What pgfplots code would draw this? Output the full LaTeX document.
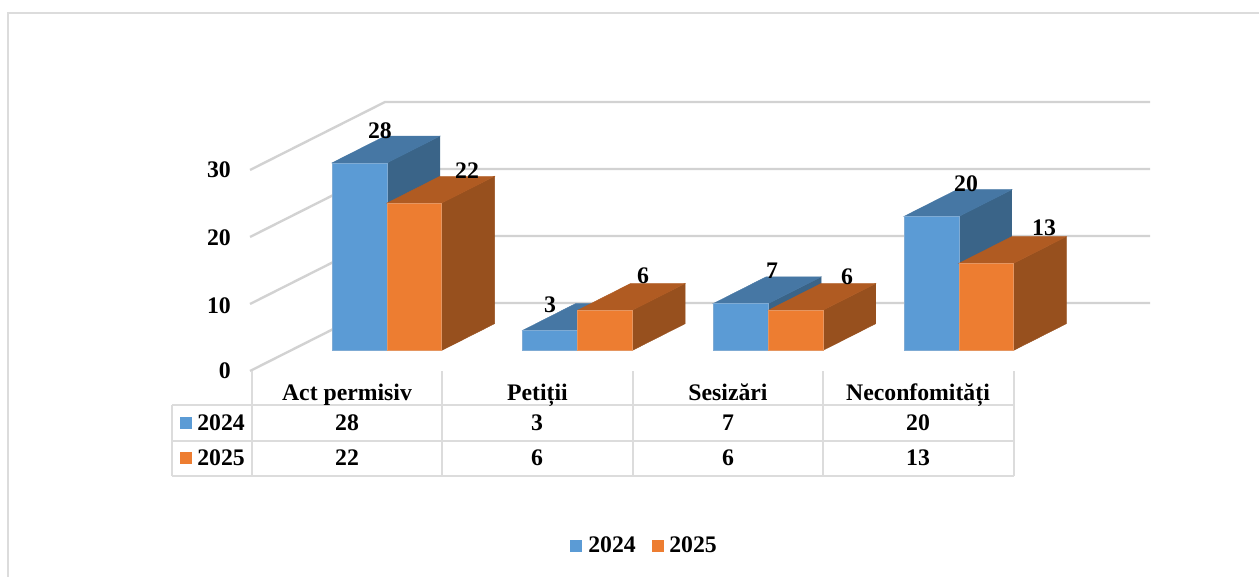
\documentclass[border=0pt]{standalone}
\usepackage{pgfplots}
\pgfplotsset{compat=1.18}
\usepackage{fontspec}
\setmainfont{Liberation Serif}
\definecolor{bF}{HTML}{5B9BD5}
\definecolor{bT}{HTML}{4677A4}
\definecolor{bS}{HTML}{3A6488}
\definecolor{oF}{HTML}{ED7D31}
\definecolor{oT}{HTML}{B05B22}
\definecolor{oS}{HTML}{97501E}
\definecolor{gridc}{HTML}{D2D2D2}
\definecolor{tabc}{HTML}{DCDCDC}
\newcommand{\tdbar}[6]{%
  \pgfmathsetmacro{\xb}{#1+0.278}%
  \pgfmathsetmacro{\xc}{#2+0.278}%
  \pgfmathsetmacro{\vb}{#3+4}%
  \addplot[fill=#6,draw=#6,line width=0.3pt] coordinates {(#2,0) (\xc,4) (\xc,\vb) (#2,#3)} --cycle;
  \addplot[fill=#5,draw=#5,line width=0.3pt] coordinates {(#1,#3) (\xb,\vb) (\xc,\vb) (#2,#3)} --cycle;
  \addplot[fill=#4,draw=#4!70!gridc,line width=0.4pt] coordinates {(#1,0) (#2,0) (#2,#3) (#1,#3)} --cycle;
}
\newcommand{\pair}[3]{%
  \pgfmathsetmacro{\xa}{#1-0.0787}%
  \pgfmathsetmacro{\xm}{#1+0.2098}%
  \pgfmathsetmacro{\xr}{#1+0.4961}%
  \tdbar{\xa}{\xm}{#2}{bF}{bT}{bS}
  \tdbar{\xm}{\xr}{#3}{oF}{oT}{oS}
}
\newcommand{\tx}[4][base]{\node[anchor=#1,inner sep=0pt] at (axis cs:#2,#3) {#4};}
\begin{document}
\begin{tikzpicture}
\useasboundingbox (0,0) rectangle (944.25pt,432.75pt);
\pgfplotsset{every axis/.append style={scale only axis,width=944.25pt,height=432.75pt,hide axis,clip=false,
  at={(0,0)},anchor=south west}}
% pixel-aligned axis: frame, walls, table, tick labels, legend
\begin{axis}[xmin=0,xmax=1259,ymin=0,ymax=577,y dir=reverse,
  font=\fontsize{17.8}{20}\selectfont\bfseries]
\addplot[tabc,line width=1.6pt] coordinates {(8,577) (8,13) (1259,13)};
% back wall and side wall
\addplot[gridc,line width=1.8pt] coordinates {(250,371) (385,303) (1150,303)};
\addplot[gridc,line width=1.8pt] coordinates {(250,304) (385,236) (1150,236)};
\addplot[gridc,line width=1.8pt] coordinates {(250,237) (385,169) (1150,169)};
\addplot[gridc,line width=1.8pt] coordinates {(250,170) (385,102) (1150,102)};
% table
\addplot[tabc,line width=1.8pt] coordinates {(172,405) (1014,405)};
\addplot[tabc,line width=1.8pt] coordinates {(172,441) (1014,441)};
\addplot[tabc,line width=1.8pt] coordinates {(172,476) (1014,476)};
\addplot[tabc,line width=1.8pt] coordinates {(172,405) (172,476)};
\addplot[tabc,line width=1.8pt] coordinates {(252,371) (252,476)};
\addplot[tabc,line width=1.8pt] coordinates {(442,371) (442,476)};
\addplot[tabc,line width=1.8pt] coordinates {(633,371) (633,476)};
\addplot[tabc,line width=1.8pt] coordinates {(823,371) (823,476)};
\addplot[tabc,line width=1.8pt] coordinates {(1014,371) (1014,476)};
% keys
\addplot[fill=bF,draw=none] coordinates {(180,417) (192,417) (192,429) (180,429)} --cycle;
\addplot[fill=oF,draw=none] coordinates {(180,452) (192,452) (192,464) (180,464)} --cycle;
\addplot[fill=bF,draw=none] coordinates {(570,540) (582,540) (582,552) (570,552)} --cycle;
\addplot[fill=oF,draw=none] coordinates {(652,540) (664,540) (664,552) (652,552)} --cycle;
% y tick labels
\tx[base east]{231}{378}{0}
\tx[base east]{231}{313}{10}
\tx[base east]{231}{246}{20}
\tx[base east]{231}{178}{30}
% table text
\tx{347}{400}{Act permisiv}
\tx{537.5}{400}{Petiții}
\tx{728}{400}{Sesizări}
\tx{918}{400}{Neconfomități}
\tx[base west]{197}{430}{2024}
\tx[base west]{197}{465.5}{2025}
\tx{347}{430}{28}\tx{537}{430}{3}\tx{728}{430}{7}\tx{918}{430}{20}
\tx{347}{465.5}{22}\tx{537}{465.5}{6}\tx{728}{465.5}{6}\tx{918}{465.5}{13}
\tx[base west]{588}{552}{2024}
\tx[base west]{669}{552}{2025}
\end{axis}
% data axis: categories at 0,1,2,3; y in the chart's values
\begin{axis}[xmin=-1.8206,xmax=4.7849,ymin=-33.806,ymax=52.313,
  font=\fontsize{17.8}{20}\selectfont\bfseries]
\pair{0}{28}{22}
\pair{1}{3}{6}
\pair{2}{7}{6}
\pair{3}{20}{13}
\tx{0.173}{31.57}{28}
\tx{0.630}{25.60}{22}
\tx{1.065}{5.60}{3}
\tx{1.553}{10.07}{6}
\tx{2.230}{10.67}{7}
\tx{2.623}{9.78}{6}
\tx{3.248}{23.66}{20}
\tx{3.657}{17.09}{13}
\end{axis}
\end{tikzpicture}
\end{document}
